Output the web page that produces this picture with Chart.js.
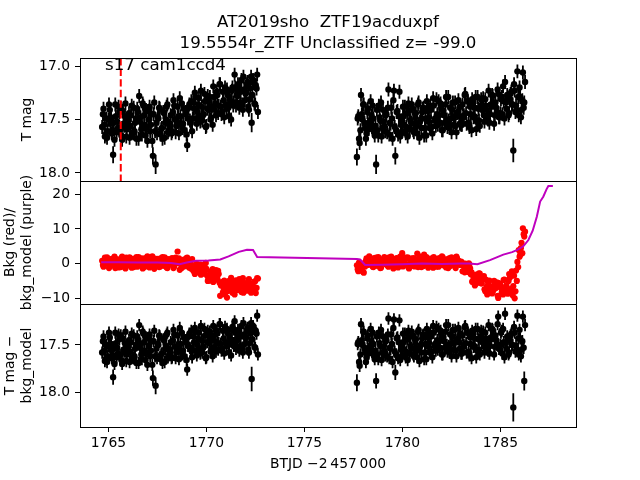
<!DOCTYPE html>
<html>
<head>
<meta charset="utf-8">
<title>AT2019sho ZTF19acduxpf</title>
<script src="https://cdn.jsdelivr.net/npm/chart.js@4"></script>
<style>
    body { margin: 0; background: #fff; }
    #wrap { position: relative; width: 640px; height: 480px; }
    #wrap canvas { position: absolute; left: 0; top: 0; }
</style>
</head>
<body>
<div id="wrap">
    <canvas id="c1" width="640" height="480"></canvas>
    <canvas id="c2" width="640" height="480"></canvas>
    <canvas id="c3" width="640" height="480"></canvas>
</div>
<script>
// Textos
const titleLines = ['AT2019sho  ZTF19acduxpf', '19.5554r_ZTF Unclassified z= -99.0'];
const sectorText = 's17 cam1ccd4';
const sectorPos = [1764.83, 17.04];
const xLabel = 'BTJD \u22122\u2009457\u2009000';
const yLabel1 = ['T mag'];
const yLabel2 = ['Bkg (red)/', 'bkg_model (purple)'];
const yLabel3 = ['T mag \u2212', 'bkg_model'];

// Eixos
const xMin = 1763.55, xMax = 1788.86;
const xTicks = [1765, 1770, 1775, 1780, 1785];
const magTicks = [17.0, 17.5, 18.0];
const bkgTicks = [-10, 0, 10, 20];
const corTicks = [17.5, 18.0];
const markerTime = 1765.63;

// Tempos (BTJD) - cadências "a"
const time1 = [
    1764.68, 1764.75, 1764.82, 1764.89, 1764.96, 1765.03, 1765.10, 1765.17, 1765.24, 1765.31,
    1765.38, 1765.45, 1765.52, 1765.59, 1765.66, 1765.73, 1765.80, 1765.87, 1765.94, 1766.01,
    1766.08, 1766.15, 1766.22, 1766.29, 1766.36, 1766.43, 1766.50, 1766.57, 1766.64, 1766.71,
    1766.78, 1766.85, 1766.92, 1766.99, 1767.06, 1767.13, 1767.20, 1767.27, 1767.34, 1767.41,
    1767.48, 1767.55, 1767.62, 1767.69, 1767.76, 1767.83, 1767.90, 1767.97, 1768.04, 1768.11,
    1768.18, 1768.25, 1768.32, 1768.39, 1768.46, 1768.53, 1768.60, 1768.67, 1768.74, 1768.81,
    1768.88, 1768.95, 1769.02, 1769.09, 1769.16, 1769.23, 1769.30, 1769.37, 1769.44, 1769.51,
    1769.58, 1769.65, 1769.72, 1769.79, 1769.86, 1769.93, 1770.00, 1770.07, 1770.14, 1770.21,
    1770.28, 1770.35, 1770.42, 1770.49, 1770.56, 1770.63, 1770.70, 1770.77, 1770.84, 1770.91,
    1770.98, 1771.05, 1771.12, 1771.19, 1771.26, 1771.33, 1771.40, 1771.47, 1771.54, 1771.61,
    1771.68, 1771.75, 1771.82, 1771.89, 1771.96, 1772.03, 1772.10, 1772.17, 1772.24, 1772.31,
    1772.38, 1772.45, 1772.52, 1772.59
];
const time2 = [
    1777.68, 1777.75, 1777.82, 1777.89, 1777.96, 1778.03, 1778.10, 1778.17, 1778.24, 1778.31,
    1778.38, 1778.45, 1778.52, 1778.59, 1778.66, 1778.73, 1778.80, 1778.87, 1778.94, 1779.01,
    1779.08, 1779.15, 1779.22, 1779.29, 1779.36, 1779.43, 1779.50, 1779.57, 1779.64, 1779.71,
    1779.78, 1779.85, 1779.92, 1779.99, 1780.06, 1780.13, 1780.20, 1780.27, 1780.34, 1780.41,
    1780.48, 1780.55, 1780.62, 1780.69, 1780.76, 1780.83, 1780.90, 1780.97, 1781.04, 1781.11,
    1781.18, 1781.25, 1781.32, 1781.39, 1781.46, 1781.53, 1781.60, 1781.67, 1781.74, 1781.81,
    1781.88, 1781.95, 1782.02, 1782.09, 1782.16, 1782.23, 1782.30, 1782.37, 1782.44, 1782.51,
    1782.58, 1782.65, 1782.72, 1782.79, 1782.86, 1782.93, 1783.00, 1783.07, 1783.14, 1783.21,
    1783.28, 1783.35, 1783.42, 1783.49, 1783.56, 1783.63, 1783.70, 1783.77, 1783.84, 1783.91,
    1783.98, 1784.05, 1784.12, 1784.19, 1784.26, 1784.33, 1784.40, 1784.47, 1784.54, 1784.61,
    1784.68, 1784.75, 1784.82, 1784.89, 1784.96, 1785.03, 1785.10, 1785.17, 1785.24, 1785.31,
    1785.38, 1785.45, 1785.52, 1785.59, 1785.66, 1785.73, 1785.80, 1785.87, 1785.94, 1786.01,
    1786.08, 1786.15, 1786.22
];
// Tempos (BTJD) - cadências "b", intercaladas
const time1b = [
    1764.72, 1764.79, 1764.86, 1764.93, 1765.00, 1765.07, 1765.14, 1765.21, 1765.28, 1765.35,
    1765.42, 1765.49, 1765.56, 1765.63, 1765.70, 1765.77, 1765.84, 1765.91, 1765.98, 1766.05,
    1766.12, 1766.19, 1766.26, 1766.33, 1766.40, 1766.47, 1766.54, 1766.61, 1766.68, 1766.75,
    1766.82, 1766.89, 1766.96, 1767.03, 1767.10, 1767.17, 1767.24, 1767.31, 1767.38, 1767.45,
    1767.52, 1767.59, 1767.66, 1767.73, 1767.80, 1767.87, 1767.94, 1768.01, 1768.08, 1768.15,
    1768.22, 1768.29, 1768.36, 1768.43, 1768.50, 1768.57, 1768.64, 1768.71, 1768.78, 1768.85,
    1768.92, 1768.99, 1769.06, 1769.13, 1769.20, 1769.27, 1769.34, 1769.41, 1769.48, 1769.55,
    1769.62, 1769.69, 1769.76, 1769.83, 1769.90, 1769.97, 1770.04, 1770.11, 1770.18, 1770.25,
    1770.32, 1770.39, 1770.46, 1770.53, 1770.60, 1770.67, 1770.74, 1770.81, 1770.88, 1770.95,
    1771.02, 1771.09, 1771.16, 1771.23, 1771.30, 1771.37, 1771.44, 1771.51, 1771.58, 1771.65,
    1771.72, 1771.79, 1771.86, 1771.93, 1772.00, 1772.07, 1772.14, 1772.21, 1772.28, 1772.35,
    1772.42, 1772.49, 1772.56, 1772.63
];
const time2b = [
    1777.72, 1777.79, 1777.86, 1777.93, 1778.00, 1778.07, 1778.14, 1778.21, 1778.28, 1778.35,
    1778.42, 1778.49, 1778.56, 1778.63, 1778.70, 1778.77, 1778.84, 1778.91, 1778.98, 1779.05,
    1779.12, 1779.19, 1779.26, 1779.33, 1779.40, 1779.47, 1779.54, 1779.61, 1779.68, 1779.75,
    1779.82, 1779.89, 1779.96, 1780.03, 1780.10, 1780.17, 1780.24, 1780.31, 1780.38, 1780.45,
    1780.52, 1780.59, 1780.66, 1780.73, 1780.80, 1780.87, 1780.94, 1781.01, 1781.08, 1781.15,
    1781.22, 1781.29, 1781.36, 1781.43, 1781.50, 1781.57, 1781.64, 1781.71, 1781.78, 1781.85,
    1781.92, 1781.99, 1782.06, 1782.13, 1782.20, 1782.27, 1782.34, 1782.41, 1782.48, 1782.55,
    1782.62, 1782.69, 1782.76, 1782.83, 1782.90, 1782.97, 1783.04, 1783.11, 1783.18, 1783.25,
    1783.32, 1783.39, 1783.46, 1783.53, 1783.60, 1783.67, 1783.74, 1783.81, 1783.88, 1783.95,
    1784.02, 1784.09, 1784.16, 1784.23, 1784.30, 1784.37, 1784.44, 1784.51, 1784.58, 1784.65,
    1784.72, 1784.79, 1784.86, 1784.93, 1785.00, 1785.07, 1785.14, 1785.21, 1785.28, 1785.35,
    1785.42, 1785.49, 1785.56, 1785.63, 1785.70, 1785.77, 1785.84, 1785.91, 1785.98, 1786.05,
    1786.12, 1786.19, 1786.26
];

// Painel 1: T mag
const mag1 = [
    17.57, 17.40, 17.66, 17.49, 17.61, 17.36, 17.54, 17.63, 17.83, 17.69,
    17.47, 17.52, 17.38, 17.60, 17.65, 17.42, 17.56, 17.35, 17.59, 17.51,
    17.67, 17.46, 17.62, 17.39, 17.53, 17.68, 17.43, 17.28, 17.48, 17.64,
    17.37, 17.55, 17.41, 17.70, 17.50, 17.61, 17.45, 17.84, 17.34, 17.92,
    17.63, 17.49, 17.40, 17.59, 17.68, 17.44, 17.53, 17.38, 17.62, 17.56,
    17.46, 17.61, 17.32, 17.50, 17.56, 17.38, 17.63, 17.47, 17.35, 17.54,
    17.60, 17.43, 17.74, 17.39, 17.51, 17.33, 17.49, 17.40, 17.29, 17.54,
    17.36, 17.47, 17.23, 17.51, 17.45, 17.33, 17.56, 17.28, 17.41, 17.50,
    17.38, 17.19, 17.41, 17.46, 17.27, 17.37, 17.17, 17.45, 17.24, 17.48,
    17.36, 17.22, 17.39, 17.30, 17.50, 17.20, 17.34, 17.20, 17.27, 17.17,
    17.39, 17.24, 17.36, 17.10, 17.32, 17.25, 17.15, 17.41, 17.21, 17.53,
    17.13, 17.35, 17.18, 17.08
];
const mag1b = [
    17.45, 17.55, 17.64, 17.67, 17.50, 17.41, 17.48, 17.60, 17.53, 17.36,
    17.62, 17.58, 17.43, 17.39, 17.69, 17.54, 17.47, 17.66, 17.51, 17.44,
    17.56, 17.37, 17.63, 17.61, 17.49, 17.40, 17.68, 17.52, 17.59, 17.35,
    17.46, 17.65, 17.57, 17.42, 17.38, 17.55, 17.70, 17.45, 17.61, 17.53,
    17.48, 17.39, 17.64, 17.58, 17.43, 17.67, 17.50, 17.36, 17.60, 17.54,
    17.63, 17.43, 17.37, 17.62, 17.52, 17.47, 17.30, 17.55, 17.58, 17.40,
    17.45, 17.64, 17.49, 17.36, 17.53, 17.61, 17.34, 17.25, 17.49, 17.43,
    17.30, 17.52, 17.38, 17.46, 17.26, 17.57, 17.40, 17.33, 17.29, 17.48,
    17.55, 17.29, 17.35, 17.24, 17.44, 17.17, 17.38, 17.43, 17.32, 17.20,
    17.40, 17.27, 17.47, 17.33, 17.23, 17.37, 17.08, 17.37, 17.28, 17.20,
    17.34, 17.13, 17.41, 17.22, 17.26, 17.17, 17.38, 17.31, 17.10, 17.27,
    17.16, 17.36, 17.21, 17.43
];
const mag2 = [
    17.85, 17.47, 17.72, 17.27, 17.50, 17.36, 17.58, 17.63, 17.40, 17.54,
    17.33, 17.57, 17.49, 17.65, 17.92, 17.60, 17.37, 17.51, 17.66, 17.41,
    17.56, 17.46, 17.62, 17.22, 17.53, 17.39, 17.68, 17.23, 17.84, 17.43,
    17.64, 17.24, 17.55, 17.61, 17.47, 17.38, 17.57, 17.66, 17.42, 17.51,
    17.36, 17.60, 17.54, 17.44, 17.63, 17.34, 17.52, 17.58, 17.40, 17.65,
    17.49, 17.33, 17.52, 17.58, 17.41, 17.63, 17.37, 17.49, 17.31, 17.55,
    17.46, 17.35, 17.60, 17.42, 17.53, 17.29, 17.57, 17.51, 17.39, 17.62,
    17.34, 17.47, 17.56, 17.44, 17.32, 17.54, 17.55, 17.36, 17.46, 17.26,
    17.54, 17.33, 17.57, 17.45, 17.31, 17.48, 17.39, 17.59, 17.29, 17.51,
    17.37, 17.40, 17.30, 17.52, 17.37, 17.49, 17.23, 17.45, 17.38, 17.28,
    17.54, 17.34, 17.43, 17.26, 17.48, 17.31, 17.45, 17.33, 17.15, 17.40,
    17.30, 17.44, 17.26, 17.36, 17.79, 17.23, 17.37, 17.05, 17.46, 17.29,
    17.41, 17.06, 17.34
];
const mag2b = [
    17.49, 17.68, 17.60, 17.45, 17.36, 17.53, 17.68, 17.43, 17.59, 17.51,
    17.46, 17.37, 17.62, 17.56, 17.41, 17.65, 17.48, 17.34, 17.58, 17.52,
    17.61, 17.45, 17.39, 17.64, 17.54, 17.49, 17.32, 17.57, 17.60, 17.42,
    17.47, 17.66, 17.51, 17.38, 17.55, 17.63, 17.44, 17.35, 17.59, 17.53,
    17.40, 17.62, 17.48, 17.56, 17.36, 17.67, 17.50, 17.43, 17.39, 17.58,
    17.65, 17.42, 17.48, 17.37, 17.57, 17.30, 17.51, 17.56, 17.45, 17.33,
    17.53, 17.40, 17.60, 17.46, 17.36, 17.50, 17.29, 17.58, 17.49, 17.41,
    17.55, 17.34, 17.62, 17.43, 17.47, 17.38, 17.55, 17.48, 17.27, 17.44,
    17.33, 17.53, 17.38, 17.60, 17.35, 17.47, 17.29, 17.52, 17.40, 17.56,
    17.31, 17.41, 17.46, 17.31, 17.41, 17.50, 17.53, 17.36, 17.27, 17.34,
    17.46, 17.39, 17.22, 17.48, 17.44, 17.29, 17.19, 17.49, 17.34, 17.27,
    17.46, 17.31, 17.24, 17.36, 17.17, 17.43, 17.41, 17.29, 17.20, 17.48,
    17.32, 17.39, 17.15
];

// Painel 2: fundo (vermelho) e modelo (roxo)
const bkg1 = [
    0.8, -0.9, 1.7, 0.0, 1.2, -1.3, 0.5, 1.4, -0.5, 2.0,
    -0.2, 0.3, -1.1, 1.1, 1.6, -0.7, 0.7, -1.4, 1.0, 0.2,
    1.8, -0.3, 1.3, -1.0, 0.4, 1.9, -0.6, 0.9, -0.1, 1.5,
    -1.2, 0.6, -0.8, 2.1, 0.1, 1.2, -0.4, 1.7, -1.5, 0.8,
    1.4, 0.0, -0.9, 1.0, 1.9, -0.5, 0.4, -1.1, 1.3, 0.7,
    -0.3, 1.6, -1.3, 0.5, 1.1, 3.5, 1.5, -0.1, -1.3, 0.6,
    1.2, -0.5, 1.7, -0.9, 0.3, -1.5, -0.6, -1.5, -2.6, -0.1,
    -1.9, -0.8, -3.2, -0.4, -1.0, -2.2, -1.5, -5.0, -3.4, -2.2,
    -3.8, -5.3, -2.5, -1.9, -4.3, -3.0, -9.3, -5.3, -8.3, -4.9,
    -6.6, -9.8, -6.1, -7.4, -4.1, -8.4, -5.2, -7.2, -6.2, -7.6,
    -4.5, -6.6, -4.9, -8.4, -5.6, -6.5, -7.8, -4.5, -7.0, -5.9,
    -8.0, -5.2, -8.5, -4.2
];
const bkg1b = [
    -0.4, 0.6, 1.5, 1.8, 0.1, -0.8, -0.1, 1.1, 0.4, -1.3,
    1.3, 0.9, -0.6, -1.0, 2.0, 0.5, -0.2, 1.7, 0.2, -0.5,
    0.7, -1.2, 1.4, 1.2, 0.0, -0.9, 1.9, 0.3, 1.0, -1.4,
    -0.3, 1.6, 0.8, -0.7, -1.1, 0.6, 2.1, -0.4, 1.2, 0.4,
    -0.1, -1.0, 1.5, 0.9, -0.6, 1.8, 0.1, -1.3, 1.1, 0.5,
    1.4, -0.2, -0.8, 1.7, 0.7, 0.2, -1.8, 0.7, 1.0, -0.8,
    -0.3, 1.6, 0.1, -1.2, 0.5, 1.3, -2.1, -3.0, -0.6, -1.2,
    -2.5, -0.3, -1.7, -0.9, -2.9, 0.2, -3.5, -4.4, -4.9, -2.5,
    -1.6, -4.0, -3.3, -4.6, -2.1, -5.5, -6.3, -5.6, -7.1, -8.9,
    -6.0, -7.9, -5.0, -7.0, -7.9, -5.9, -8.9, -4.8, -6.1, -7.2,
    -5.2, -8.2, -4.2, -6.9, -6.4, -7.5, -4.9, -5.8, -8.4, -6.3,
    -7.6, -5.1, -7.0, -4.3
];
const bkg2 = [
    -0.5, -2.2, 0.4, -1.3, -0.1, -2.6, -0.8, 1.5, -0.4, 2.1,
    -0.1, 0.4, -1.0, 1.2, 1.7, -0.6, 0.8, -1.3, 1.1, 0.3,
    1.9, -0.2, 1.4, -0.9, 0.5, 2.0, -0.5, 1.0, 0.0, 1.6,
    -1.1, 0.7, -0.7, 3.0, 0.2, 1.3, -0.3, 1.8, -1.4, 0.9,
    1.5, 0.1, -0.8, 1.1, 2.9, -0.4, 0.5, -1.0, 1.4, 2.6,
    -0.2, 1.7, -1.2, 0.6, 1.2, -0.6, 1.9, 0.3, -0.9, 1.0,
    1.6, -0.1, 2.1, -0.5, 0.7, -1.1, 1.3, 0.4, -0.7, 1.8,
    0.0, 1.1, -1.3, 1.5, 0.9, -0.3, 0.6, -2.2, -0.9, 0.0,
    -1.2, -2.4, -0.2, -3.1, -5.2, -4.1, -6.3, -3.2, -5.5, -2.8,
    -4.2, -5.7, -3.8, -7.4, -4.6, -8.9, -5.7, -7.7, -6.7, -8.1,
    -5.0, -7.1, -5.4, -9.9, -6.0, -7.0, -8.4, -4.7, -7.6, -6.3,
    -8.7, -3.0, -8.2, -2.2, -6.5, -10.0, -2.0, 0.5, 3.9, 2.5,
    6.0, 10.2, 7.8
];
const bkg2b = [
    -1.6, 0.3, -0.5, -2.0, -2.4, -0.7, 0.8, -0.3, 1.3, 0.5,
    0.0, -0.9, 1.6, 1.0, -0.5, 1.9, 0.2, -1.2, 1.2, 0.6,
    1.5, -0.1, -0.7, 1.8, 0.8, 0.3, -1.4, 1.1, 1.4, -0.4,
    0.1, 2.0, 0.5, -0.8, 0.9, 1.7, -0.2, -1.1, 1.3, 0.7,
    -0.6, 1.6, 0.2, 1.0, -1.0, 2.1, 0.4, -0.3, -0.7, 1.2,
    1.9, 0.0, 0.6, -0.5, 1.5, -1.2, 0.9, 1.4, 0.3, -0.9,
    1.1, -0.2, 1.8, 0.4, -0.6, 0.8, -1.3, 1.6, 0.7, -0.1,
    1.3, -0.8, 2.0, 0.1, 0.5, -0.4, 0.3, -0.4, -2.5, -0.8,
    -1.9, 0.1, -1.4, -2.5, -5.3, -3.9, -5.9, -3.4, -4.7, -2.9,
    -5.7, -4.2, -3.6, -8.0, -6.6, -5.3, -4.9, -7.3, -8.6, -7.6,
    -5.9, -6.9, -9.3, -5.6, -6.1, -8.3, -8.9, -4.6, -6.7, -7.7,
    -5.0, -4.0, -7.2, -9.1, -3.5, -8.0, -5.0, -1.0, 2.0, 4.5,
    3.0, 8.5, 9.2
];
const modelTime = [
    1764.63, 1765.50, 1766.50, 1767.50, 1768.20, 1768.63, 1769.00, 1769.46, 1770.10, 1770.71,
    1771.13, 1771.65, 1772.07, 1772.38, 1772.59, 1777.68, 1777.84, 1778.10, 1779.00, 1780.00,
    1781.00, 1782.00, 1783.00, 1783.41, 1783.83, 1784.47, 1785.15, 1785.60, 1785.84, 1786.17,
    1786.43, 1786.65, 1786.86, 1787.03, 1787.19, 1787.36, 1787.45, 1787.68
];
const modelBkg = [
    0.4, 0.4, 0.3, 0.3, 0.2, -0.2, 0.3, 0.8, 0.9, 1.2,
    2.1, 3.4, 4.0, 3.9, 1.9, 1.3, 1.2, -0.4, -0.3, -0.2,
    0.0, -0.1, 0.0, 0.0, -0.2, 1.0, 2.6, 3.3, 3.9, 5.0,
    6.8, 9.5, 13.5, 17.9, 19.3, 21.5, 22.4, 22.4
];

// Painel 3: T mag - bkg_model
const cor1 = [
    17.58, 17.41, 17.67, 17.50, 17.62, 17.37, 17.55, 17.64, 17.84, 17.70,
    17.48, 17.53, 17.39, 17.61, 17.66, 17.43, 17.57, 17.36, 17.60, 17.52,
    17.68, 17.47, 17.63, 17.40, 17.54, 17.69, 17.44, 17.29, 17.49, 17.65,
    17.38, 17.56, 17.42, 17.71, 17.51, 17.62, 17.46, 17.85, 17.35, 17.93,
    17.64, 17.50, 17.41, 17.60, 17.69, 17.45, 17.54, 17.39, 17.63, 17.57,
    17.47, 17.63, 17.34, 17.52, 17.58, 17.40, 17.65, 17.49, 17.37, 17.56,
    17.62, 17.45, 17.76, 17.41, 17.53, 17.35, 17.56, 17.47, 17.36, 17.61,
    17.43, 17.54, 17.30, 17.58, 17.52, 17.40, 17.63, 17.35, 17.48, 17.57,
    17.45, 17.30, 17.52, 17.57, 17.38, 17.48, 17.28, 17.56, 17.35, 17.59,
    17.47, 17.33, 17.50, 17.41, 17.61, 17.31, 17.51, 17.37, 17.44, 17.34,
    17.56, 17.41, 17.53, 17.27, 17.49, 17.42, 17.32, 17.58, 17.38, 17.86,
    17.30, 17.52, 17.35, 17.19
];
const cor1b = [
    17.46, 17.56, 17.65, 17.68, 17.51, 17.42, 17.49, 17.61, 17.54, 17.37,
    17.63, 17.59, 17.44, 17.40, 17.70, 17.55, 17.48, 17.67, 17.52, 17.45,
    17.57, 17.38, 17.64, 17.62, 17.50, 17.41, 17.69, 17.53, 17.60, 17.36,
    17.47, 17.66, 17.58, 17.43, 17.39, 17.56, 17.71, 17.46, 17.62, 17.54,
    17.49, 17.40, 17.65, 17.59, 17.44, 17.68, 17.51, 17.37, 17.61, 17.55,
    17.64, 17.45, 17.39, 17.64, 17.54, 17.49, 17.32, 17.57, 17.60, 17.42,
    17.47, 17.66, 17.51, 17.38, 17.55, 17.63, 17.41, 17.32, 17.56, 17.50,
    17.37, 17.59, 17.45, 17.53, 17.33, 17.64, 17.47, 17.40, 17.36, 17.55,
    17.62, 17.40, 17.46, 17.35, 17.55, 17.28, 17.49, 17.54, 17.43, 17.31,
    17.51, 17.38, 17.58, 17.44, 17.34, 17.48, 17.25, 17.54, 17.45, 17.37,
    17.51, 17.30, 17.58, 17.39, 17.43, 17.34, 17.55, 17.48, 17.27, 17.44,
    17.33, 17.53, 17.38, 17.60
];
const cor2 = [
    17.90, 17.47, 17.72, 17.28, 17.50, 17.36, 17.58, 17.63, 17.40, 17.54,
    17.33, 17.57, 17.49, 17.65, 17.88, 17.60, 17.37, 17.51, 17.66, 17.41,
    17.56, 17.46, 17.62, 17.22, 17.53, 17.39, 17.68, 17.23, 17.79, 17.43,
    17.64, 17.24, 17.55, 17.61, 17.47, 17.38, 17.57, 17.66, 17.42, 17.51,
    17.36, 17.60, 17.54, 17.44, 17.63, 17.34, 17.52, 17.58, 17.40, 17.65,
    17.49, 17.33, 17.52, 17.58, 17.41, 17.63, 17.37, 17.49, 17.31, 17.55,
    17.46, 17.35, 17.60, 17.42, 17.53, 17.29, 17.57, 17.51, 17.39, 17.62,
    17.34, 17.47, 17.56, 17.44, 17.32, 17.54, 17.59, 17.40, 17.50, 17.30,
    17.58, 17.37, 17.61, 17.49, 17.35, 17.52, 17.43, 17.63, 17.33, 17.55,
    17.41, 17.46, 17.36, 17.58, 17.43, 17.55, 17.29, 17.51, 17.44, 17.34,
    17.60, 17.40, 17.49, 17.20, 17.54, 17.37, 17.59, 17.47, 17.17, 17.54,
    17.44, 17.58, 17.40, 17.50, 18.16, 17.37, 17.51, 17.19, 17.60, 17.43,
    17.55, 17.20, 17.88
];
const cor2b = [
    17.49, 17.68, 17.60, 17.45, 17.36, 17.53, 17.68, 17.43, 17.59, 17.51,
    17.46, 17.37, 17.62, 17.56, 17.41, 17.65, 17.48, 17.34, 17.58, 17.52,
    17.61, 17.45, 17.39, 17.64, 17.54, 17.49, 17.32, 17.57, 17.60, 17.42,
    17.47, 17.66, 17.51, 17.38, 17.55, 17.63, 17.44, 17.35, 17.59, 17.53,
    17.40, 17.62, 17.48, 17.56, 17.36, 17.67, 17.50, 17.43, 17.39, 17.58,
    17.65, 17.42, 17.48, 17.37, 17.57, 17.30, 17.51, 17.56, 17.45, 17.33,
    17.53, 17.40, 17.60, 17.46, 17.36, 17.50, 17.29, 17.58, 17.49, 17.41,
    17.55, 17.34, 17.62, 17.43, 17.47, 17.38, 17.59, 17.52, 17.31, 17.48,
    17.37, 17.57, 17.42, 17.64, 17.39, 17.51, 17.33, 17.56, 17.44, 17.60,
    17.35, 17.47, 17.52, 17.37, 17.47, 17.56, 17.59, 17.42, 17.33, 17.40,
    17.52, 17.45, 17.28, 17.54, 17.50, 17.35, 17.33, 17.63, 17.48, 17.41,
    17.60, 17.45, 17.38, 17.50, 17.31, 17.57, 17.55, 17.43, 17.34, 17.62,
    17.46, 17.53, 17.29
];

// Barras de erro (mag): valor típico e os pontos com barra maior
const magErr = 0.065;
const magErrBig1 = { 8: 0.08, 37: 0.08, 39: 0.09, 109: 0.09 };
const magErrBig2 = { 0: 0.08, 14: 0.09, 28: 0.08, 114: 0.11 };
const corErrBig1 = { 8: 0.08, 37: 0.08, 39: 0.09, 109: 0.13 };
const corErrBig2 = { 0: 0.09, 14: 0.08, 28: 0.08, 114: 0.15, 122: 0.10 };

Chart.defaults.font.family = '"DejaVu Sans", sans-serif';
Chart.defaults.font.size = 13.89;
Chart.defaults.color = '#000';

const pts = (xs, ys) => xs.map((x, i) => ({ x: x, y: ys[i] }));
const errList = (n, big) => Array.from({ length: n }, (_, i) => big[i] || magErr);
const minusFmt = v => (v < 0 ? '\u2212' + (-v) : String(v));

// Eixo x (só o painel de baixo mostra)
function xAxis(show) {
    const ax = {
        type: 'linear', min: xMin, max: xMax, display: show,
        afterBuildTicks: s => { s.ticks = xTicks.map(v => ({ value: v })); },
        grid: { drawOnChartArea: false, drawTicks: true, tickLength: 5, color: '#000' },
        border: { color: '#000' },
        ticks: { padding: 3, maxRotation: 0, autoSkip: false, callback: v => String(v) }
    };
    if (show) ax.afterFit = s => { s.height = 53; };
    return ax;
}

function yAxis(min, max, ticks, reverse, fmt) {
    return {
        type: 'linear', position: 'left', min: min, max: max, reverse: reverse,
        afterBuildTicks: s => { s.ticks = ticks.map(v => ({ value: v })); },
        afterFit: s => { s.width = 80; },
        grid: { drawOnChartArea: false, drawTicks: true, tickLength: 5, color: '#000' },
        border: { color: '#000' },
        ticks: { padding: 5, autoSkip: false, callback: fmt }
    };
}

// Barras de erro desenhadas pelas escalas do gráfico
const errorBars = {
    id: 'errorBars',
    beforeDatasetsDraw(chart) {
        const { ctx, scales: { x, y } } = chart;
        ctx.save();
        ctx.strokeStyle = '#000';
        ctx.lineWidth = 1.8;
        chart.data.datasets.forEach(ds => {
            if (!ds.errs) return;
            ctx.beginPath();
            ds.data.forEach((p, i) => {
                const px = x.getPixelForValue(p.x);
                ctx.moveTo(px, y.getPixelForValue(p.y - ds.errs[i]));
                ctx.lineTo(px, y.getPixelForValue(p.y + ds.errs[i]));
            });
            ctx.stroke();
        });
        ctx.restore();
    }
};

function drawYLabel(ctx, lines, xs, cy) {
    ctx.save();
    ctx.fillStyle = '#000';
    ctx.font = '13.89px "DejaVu Sans"';
    ctx.textAlign = 'center';
    ctx.textBaseline = 'middle';
    lines.forEach((t, k) => {
        ctx.save();
        ctx.translate(xs[k], cy);
        ctx.rotate(-Math.PI / 2);
        ctx.fillText(t, 0, 0);
        ctx.restore();
    });
    ctx.restore();
}

// Moldura + textos de cada painel
function decor(label, labelX, extra) {
    return {
        id: 'decor',
        afterDraw(chart) {
            const { ctx, chartArea: a } = chart;
            ctx.save();
            ctx.strokeStyle = '#000';
            ctx.lineWidth = 1;
            ctx.strokeRect(Math.round(a.left) + 0.5, Math.round(a.top) + 0.5,
                Math.round(a.right - a.left), Math.round(a.bottom - a.top));
            ctx.restore();
            drawYLabel(ctx, label, labelX, (a.top + a.bottom) / 2);
            if (extra) extra(chart);
        }
    };
}

function baseOptions(padBottom, padTop, xs, ys) {
    return {
        responsive: false,
        animation: false,
        devicePixelRatio: 1,
        events: [],
        layout: { padding: { left: 0, right: 64, top: padTop, bottom: padBottom } },
        plugins: { legend: { display: false }, tooltip: { enabled: false } },
        scales: { x: xs, y: ys }
    };
}

const blackPts = (xs, ys, errs) => ({
    data: pts(xs, ys), errs: errs,
    backgroundColor: '#000', borderWidth: 0, pointRadius: 3.2
});
const redPts = (xs, ys) => ({
    data: pts(xs, ys), backgroundColor: '#ff0000', borderWidth: 0, pointRadius: 3.1, order: 1
});

// Painel 1
new Chart(document.getElementById('c1'), {
    type: 'scatter',
    data: {
        datasets: [
            blackPts(time1, mag1, errList(mag1.length, magErrBig1)),
            blackPts(time1b, mag1b, errList(mag1b.length, {})),
            blackPts(time2, mag2, errList(mag2.length, magErrBig2)),
            blackPts(time2b, mag2b, errList(mag2b.length, {}))
        ]
    },
    options: baseOptions(299, 58, xAxis(false), yAxis(16.925, 18.075, magTicks, true, v => v.toFixed(1))),
    plugins: [errorBars, {
        id: 'marker',
        afterDatasetsDraw(chart) {
            const { ctx, chartArea: a, scales: { x } } = chart;
            const px = x.getPixelForValue(markerTime);
            ctx.save();
            ctx.strokeStyle = '#ff0000';
            ctx.lineWidth = 2;
            ctx.setLineDash([7.4, 3.2]);
            ctx.beginPath();
            ctx.moveTo(px, a.top);
            ctx.lineTo(px, a.bottom);
            ctx.stroke();
            ctx.restore();
        }
    }, decor(yLabel1, [27], chart => {
        const { ctx, chartArea: a, scales: { x, y } } = chart;
        ctx.save();
        ctx.fillStyle = '#000';
        ctx.font = '16.67px "DejaVu Sans"';
        ctx.textAlign = 'center';
        ctx.textBaseline = 'alphabetic';
        const cx = (a.left + a.right) / 2;
        ctx.fillText(titleLines[0], cx, 27);
        ctx.fillText(titleLines[1], cx, 48);
        ctx.textAlign = 'left';
        ctx.fillText(sectorText, x.getPixelForValue(sectorPos[0]), y.getPixelForValue(sectorPos[1]));
        ctx.restore();
    })]
});

// Painel 2
new Chart(document.getElementById('c2'), {
    type: 'scatter',
    data: {
        datasets: [
            { data: pts(modelTime, modelBkg), showLine: true, pointRadius: 0, borderColor: '#bf00bf',
              borderWidth: 2, backgroundColor: '#bf00bf', order: 0 },
            redPts(time1, bkg1),
            redPts(time1b, bkg1b),
            redPts(time2, bkg2),
            redPts(time2b, bkg2b)
        ]
    },
    options: baseOptions(176, 181, xAxis(false), yAxis(-11.65, 23.83, bkgTicks, false, minusFmt)),
    plugins: [decor(yLabel2, [10, 27])]
});

// Painel 3
new Chart(document.getElementById('c3'), {
    type: 'scatter',
    data: {
        datasets: [
            blackPts(time1, cor1, errList(cor1.length, corErrBig1)),
            blackPts(time1b, cor1b, errList(cor1b.length, {})),
            blackPts(time2, cor2, errList(cor2.length, corErrBig2)),
            blackPts(time2b, cor2b, errList(cor2b.length, {}))
        ]
    },
    options: baseOptions(0, 304, xAxis(true), yAxis(17.067, 18.367, corTicks, true, v => v.toFixed(1))),
    plugins: [errorBars, decor(yLabel3, [10, 27], chart => {
        const { ctx, chartArea: a } = chart;
        ctx.save();
        ctx.fillStyle = '#000';
        ctx.font = '13.89px "DejaVu Sans"';
        ctx.textAlign = 'center';
        ctx.textBaseline = 'alphabetic';
        ctx.fillText(xLabel, (a.left + a.right) / 2, 468);
        ctx.restore();
    })]
});
</script>
</body>
</html>
